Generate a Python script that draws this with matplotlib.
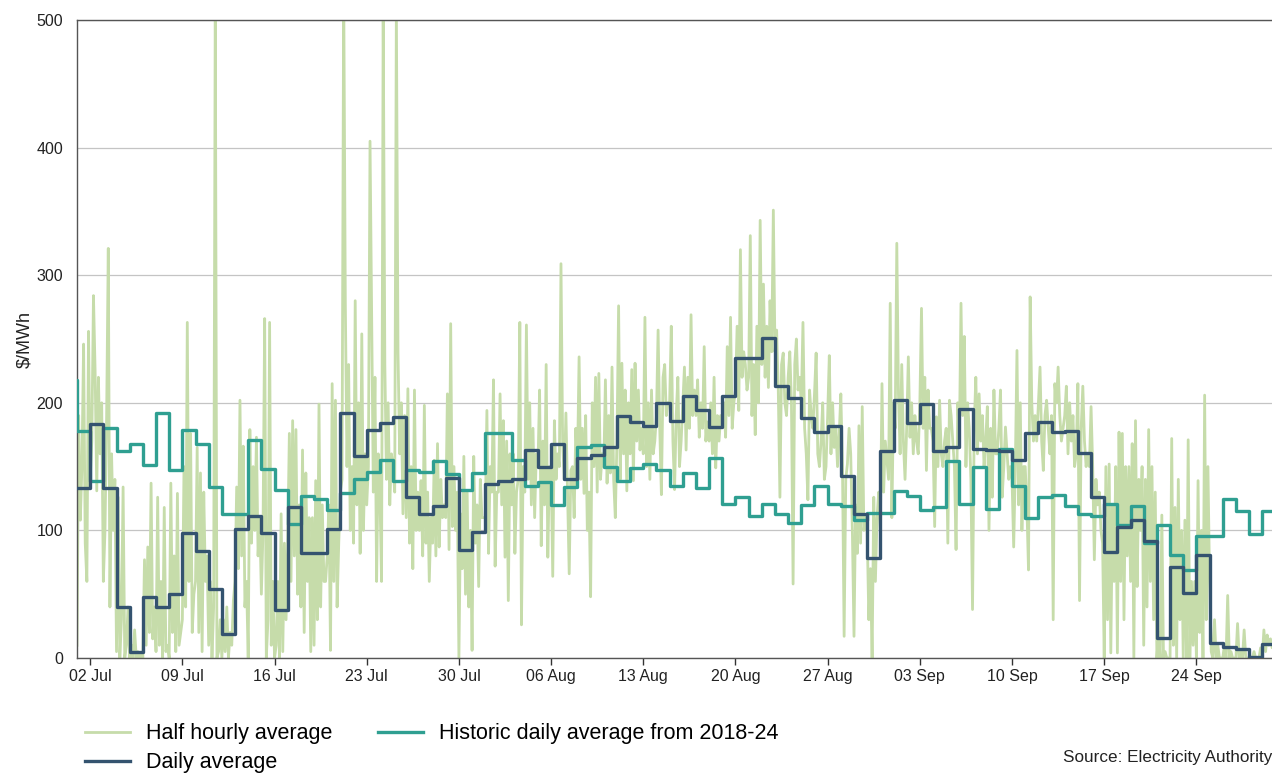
import numpy as np
import pandas as pd
import matplotlib
matplotlib.use("Agg")
import matplotlib.pyplot as plt
import matplotlib.dates as mdates

plt.rcParams["font.family"] = ["Liberation Sans", "DejaVu Sans"]

half_hourly_jul = [
    [10, 190, 108, 150, 246, 90, 60, 256],
    [140, 170, 284, 225, 131, 220, 160, 200],
    [60, 100, 190, 321, 40, 160, 100, 140],
    [5, 126, 0, 30, 134, 0, 10, 40],
    [0, 10, 0, 22, 0, 5, 0, 3],
    [0, 77, 10, 87, 20, 137, 15, 40],
    [5, 126, 10, 60, 0, 118, 5, 10],
    [0, 137, 20, 80, 5, 129, 10, 20],
    [30, 150, 40, 263, 60, 176, 20, 50],
    [60, 165, 20, 145, 5, 130, 60, 80],
    [10, 60, 0, 40, 520, 0, 5, 30],
    [0, 30, 5, 40, 0, 20, 10, 45],
    [60, 134, 70, 202, 80, 166, 40, 60],
    [0, 179, 90, 150, 100, 173, 80, 110],
    [50, 100, 266, 0, 30, 263, 10, 60],
    [0, 10, 60, 0, 113, 5, 90, 30],
    [90, 176, 60, 186, 80, 179, 50, 120],
    [40, 163, 20, 145, 60, 110, 5, 110],
    [10, 139, 30, 199, 40, 120, 60, 60],
    [80, 120, 6, 215, 60, 202, 40, 90],
    [130, 140, 530, 278, 150, 230, 100, 150],
    [90, 280, 120, 200, 82, 254, 100, 160],
    [120, 150, 405, 270, 130, 220, 60, 160],
    [130, 60, 510, 230, 140, 200, 120, 160],
    [150, 130, 510, 239, 160, 200, 113, 190],
    [110, 211, 90, 150, 70, 210, 100, 130],
    [100, 139, 80, 198, 90, 130, 60, 110],
    [90, 155, 80, 168, 87, 140, 110, 120],
    [110, 207, 85, 262, 103, 150, 100, 130],
    [0, 113, 70, 158, 50, 130, 40, 100],
    [6, 158, 90, 120, 56, 140, 110, 110],
]
half_hourly_aug = [
    [110, 194, 82, 150, 130, 218, 72, 130],
    [130, 207, 120, 186, 79, 170, 45, 160],
    [120, 160, 82, 130, 140, 263, 26, 150],
    [130, 261, 140, 200, 120, 180, 110, 160],
    [150, 210, 88, 170, 120, 230, 79, 150],
    [150, 64, 186, 140, 160, 150, 309, 170],
    [140, 192, 130, 66, 147, 150, 110, 180],
    [150, 236, 140, 180, 129, 190, 100, 130],
    [48, 200, 150, 220, 130, 223, 140, 160],
    [150, 218, 137, 190, 145, 228, 140, 110],
    [170, 276, 140, 231, 160, 210, 131, 200],
    [160, 226, 139, 231, 170, 210, 163, 180],
    [160, 267, 150, 200, 140, 210, 160, 170],
    [190, 257, 180, 128, 220, 230, 190, 200],
    [200, 260, 170, 132, 190, 220, 150, 170],
    [200, 228, 163, 220, 180, 269, 190, 210],
    [190, 218, 173, 200, 180, 244, 170, 185],
    [170, 200, 160, 220, 149, 190, 170, 190],
    [186, 200, 173, 244, 190, 267, 180, 200],
    [210, 260, 194, 320, 220, 240, 230, 210],
    [220, 331, 190, 230, 175, 260, 200, 343],
    [230, 293, 220, 260, 212, 280, 240, 351],
    [240, 257, 210, 126, 230, 239, 200, 190],
    [220, 240, 200, 58, 230, 250, 210, 220],
    [200, 263, 180, 160, 124, 210, 190, 180],
    [207, 239, 160, 150, 170, 200, 140, 150],
    [190, 237, 160, 200, 165, 180, 150, 175],
    [207, 150, 17, 140, 152, 180, 160, 100],
    [17, 120, 82, 182, 90, 197, 100, 110],
    [100, 30, 70, 0, 126, 60, 110, 130],
    [100, 215, 130, 170, 155, 140, 278, 110],
]
half_hourly_sep = [
    [200, 180, 325, 207, 160, 230, 170, 140],
    [180, 236, 173, 200, 160, 190, 170, 160],
    [200, 274, 180, 220, 147, 210, 180, 180],
    [170, 103, 189, 150, 202, 160, 150, 170],
    [180, 90, 202, 190, 170, 150, 85, 200],
    [170, 278, 190, 252, 150, 200, 180, 140],
    [38, 180, 220, 160, 207, 170, 190, 150],
    [170, 197, 100, 180, 126, 210, 160, 160],
    [180, 210, 126, 150, 181, 160, 140, 150],
    [140, 87, 150, 241, 120, 200, 100, 150],
    [150, 120, 69, 283, 200, 170, 190, 170],
    [200, 228, 170, 147, 190, 202, 180, 160],
    [190, 30, 215, 200, 228, 190, 170, 180],
    [190, 213, 160, 200, 170, 190, 150, 160],
    [215, 45, 180, 213, 170, 150, 160, 150],
    [197, 150, 77, 140, 120, 130, 100, 90],
    [0, 150, 30, 152, 4, 120, 60, 150],
    [4, 177, 60, 176, 30, 150, 80, 150],
    [60, 168, 0, 186, 56, 140, 100, 150],
    [10, 140, 40, 179, 60, 150, 30, 130],
    [0, 20, 0, 112, 0, 5, 0, 0],
    [0, 172, 10, 118, 0, 140, 30, 100],
    [0, 108, 0, 171, 0, 60, 10, 60],
    [0, 139, 20, 100, 0, 206, 30, 150],
    [60, 5, 0, 30, 0, 10, 0, 0],
    [0, 10, 0, 49, 0, 5, 0, 0],
    [0, 27, 0, 5, 0, 22, 0, 0],
    [0, 0, 0, 5, 0, 0, 0, 8],
    [0, 22, 5, 18, 10, 15, 8, 10],
]

daily_jul = [133, 183, 133, 40, 5, 48, 40, 50, 98, 84, 54, 19, 101, 111, 98, 38,
             118, 82, 82, 101, 192, 158, 179, 184, 189, 126, 113, 119, 141, 85, 99]
daily_aug = [136, 139, 140, 163, 150, 168, 140, 157, 159, 165, 190, 185, 182, 200, 186, 205,
             194, 181, 205, 235, 235, 251, 213, 204, 188, 177, 182, 143, 113, 78, 162]
daily_sep = [202, 184, 199, 162, 165, 195, 164, 163, 162, 155, 176, 185, 177, 178, 161,
             126, 83, 103, 108, 92, 16, 71, 51, 81, 12, 9, 7, 1, 11]

hist_jun30 = 218
hist_jul = [178, 139, 180, 162, 168, 151, 192, 147, 179, 168, 134, 113, 113, 171, 148, 132,
            105, 127, 125, 116, 129, 140, 146, 155, 139, 147, 146, 154, 144, 132, 145]
hist_aug = [176, 176, 155, 135, 138, 120, 134, 165, 167, 150, 139, 149, 152, 147, 135, 145,
            133, 157, 121, 126, 111, 121, 113, 106, 120, 135, 121, 119, 108, 114, 114]
hist_sep = [131, 127, 116, 118, 154, 121, 150, 117, 164, 135, 110, 126, 128, 119, 113,
            111, 121, 104, 119, 90, 104, 81, 69, 96, 96, 125, 115, 97, 115]

green = "#c6dcaa"
navy = "#34536f"
teal = "#2f9f91"

half = np.array(half_hourly_jul + half_hourly_aug + half_hourly_sep, dtype=float).ravel()
t_half = pd.date_range("2025-07-01", periods=len(half), freq="3h")

daily = np.array(daily_jul + daily_aug + daily_sep, dtype=float)
t_daily = pd.date_range("2025-07-01", periods=len(daily) + 1, freq="D")
daily = np.append(daily, daily[-1])

hist = np.array([hist_jun30] + hist_jul + hist_aug + hist_sep, dtype=float)
t_hist = pd.date_range("2025-06-30", periods=len(hist) + 1, freq="D")
hist = np.append(hist, hist[-1])

fig = plt.figure(figsize=(12.72, 7.75), dpi=100)
ax = fig.add_axes([77 / 1272, 117 / 775, 1195 / 1272, 638 / 775])

ax.plot(t_half, half, color=green, lw=2.0, label="Half hourly average", zorder=2)
ax.plot(t_daily, daily, color=navy, lw=2.4, drawstyle="steps-post", label="Daily average", zorder=4)
ax.plot(t_hist, hist, color=teal, lw=2.4, drawstyle="steps-post",
        label="Historic daily average from 2018-24", zorder=3)

start = pd.Timestamp("2025-07-01")
ax.set_xlim(start, start + pd.Timedelta(days=90.74))
ax.set_ylim(0, 500)
ax.set_yticks([0, 100, 200, 300, 400, 500])

ax.set_xticks(pd.date_range("2025-07-02", "2025-09-24", freq="7D"))
ax.xaxis.set_major_formatter(mdates.DateFormatter("%d %b"))

ax.grid(axis="y", color="#c4c4c4", lw=0.9)
ax.set_axisbelow(True)
for side in ["left", "bottom", "top"]:
    ax.spines[side].set_color("#555555")
    ax.spines[side].set_linewidth(1.0)
ax.spines["right"].set_visible(False)

ax.tick_params(axis="y", length=0, pad=10, labelsize=11.5, labelcolor="#222222")
ax.tick_params(axis="x", length=5, width=1, color="#333333", pad=3, labelsize=11.5, labelcolor="#222222")
ax.set_ylabel(r"\$/MWh", fontsize=13, color="#222222", labelpad=2)

fig.legend(loc="upper left", bbox_to_anchor=(0.060, 0.078), ncol=2, frameon=False,
           fontsize=15.5, handlelength=2.1, columnspacing=2.1, labelspacing=0.38,
           handletextpad=0.75, borderaxespad=0)

fig.text(1.0, 0.023, "Source: Electricity Authority", ha="right", va="center",
         fontsize=12.3, color="#222222")

fig.savefig("out.png", dpi=100)
